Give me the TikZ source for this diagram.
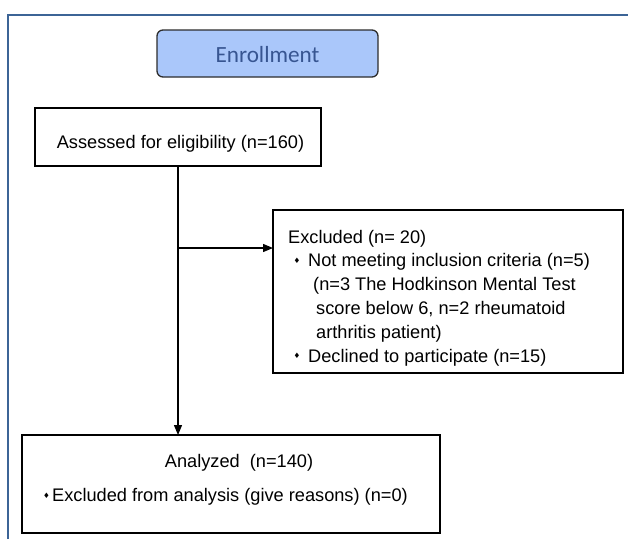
\documentclass[tikz,border=0pt]{standalone}
\usepackage{fontspec}
\setmainfont{Liberation Sans}
\newfontfamily\calib{Carlito}
\newfontfamily\symf{DejaVu Sans}
\usetikzlibrary{arrows.meta}
\definecolor{framec}{RGB}{60,100,150}
\definecolor{enrfill}{RGB}{170,199,250}
\definecolor{enrtext}{RGB}{55,85,145}
\definecolor{enrdraw}{RGB}{45,45,45}
\begin{document}
\begin{tikzpicture}[x=1pt,y=-1pt,
  box/.style={draw=black, line width=1.3pt, inner sep=0pt, outer sep=0pt},
  txt/.style={anchor=base west, inner sep=0pt, font=\fontsize{18.2}{22}\selectfont},
  ctxt/.style={anchor=base, inner sep=0pt, font=\fontsize{18.2}{22}\selectfont},
  bul/.style={anchor=center, inner sep=0pt, font=\symf\fontsize{7.5}{9}\selectfont},
  arr/.style={line width=1.3pt, -{Triangle[length=10pt,width=8pt]}},
]
\useasboundingbox (0,0) rectangle (628,539);
\draw[framec, line width=2.2pt] (8,539) -- (8,15) -- (628,15);

% Enrollment
\node[draw=enrdraw, fill=enrfill, line width=1.3pt, rounded corners=6pt,
      minimum width=221pt, minimum height=47pt, inner sep=0pt] (enr) at (267.5,53.5) {};
\node[anchor=base, inner sep=0pt, text=enrtext, font=\calib\fontsize{23.2}{26}\selectfont]
      (enrt) at (267.5,62.3) {Enrollment};

% Assessed
\node[box, minimum width=286pt, minimum height=58pt] (ass) at (178,137) {};
\node[ctxt] (asst) at (180.5,148) {Assessed for eligibility (n=160)};

% Excluded
\node[box, minimum width=350pt, minimum height=163pt] (exc) at (448,291.5) {};
\node[txt] (e1) at (288,243) {Excluded (n= 20)};
\node[bul] (b1) at (297,260.5) {♦};
\node[txt] (e2) at (308,266.8) {Not meeting inclusion criteria (n=5)};
\node[txt] (e3) at (313,290.6) {(n=3 The Hodkinson Mental Test};
\node[txt] (e4) at (316,314.4) {score below 6, n=2 rheumatoid};
\node[txt] (e5) at (316,338.2) {arthritis patient)};
\node[bul] (b2) at (297,356) {♦};
\node[txt] (e6) at (308,362) {Declined to participate (n=15)};

% Analyzed
\node[box, minimum width=418pt, minimum height=98pt] (ana) at (231,484) {};
\node[ctxt] (a1) at (239,467.3) {Analyzed\ \ (n=140)};
\node[bul] (b3) at (46.5,496) {♦};
\node[txt] (a2) at (52,501.7) {Excluded from analysis (give reasons) (n=0)};

% connectors
\draw[arr] (ass.south) -- (ass.south |- ana.north);
\coordinate (br) at (178,248);
\draw[arr] (br) -- (br -| exc.west);
\end{tikzpicture}
\end{document}
